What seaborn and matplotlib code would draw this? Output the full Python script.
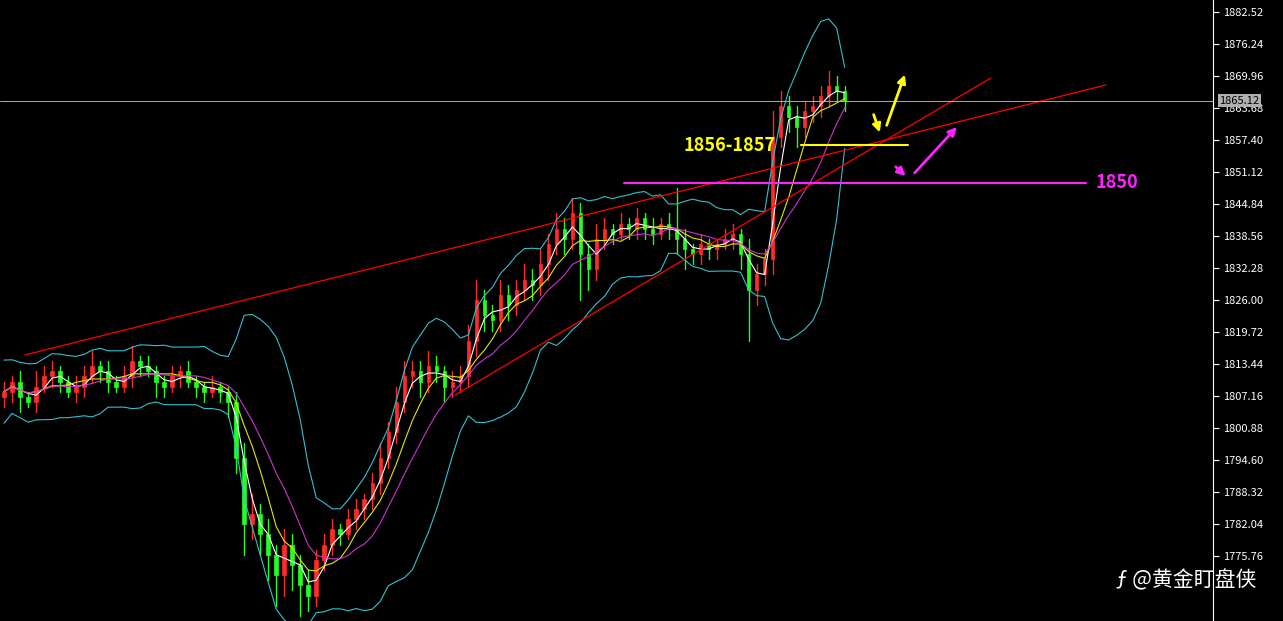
import matplotlib
matplotlib.use("Agg")
import matplotlib.pyplot as plt
import seaborn as sns
import pandas as pd
import numpy as np

sns.set_style("dark")
plt.rcParams['font.family'] = ['Noto Sans CJK SC', 'DejaVu Sans']

closes = [1808,1810,1807,1806,1809,1811,1812,1810,1808,1809,1811,1813,1812,1810,1809,1811,1814,1813,1812,1810,
          1809,1811,1812,1810,1809,1808,1809,1808,1806,
          1795,1782,1784,1780,1776,1772,1778,1774,1770,1768,1775,1778,
          1781,1780,1783,1785,1787,1790,1795,1800,1806,
          1811,1812,1810,1813,1812,1809,1810,1811,
          1818,1826,1823,1822,1827,1825,
          1828,1830,1829,1833,1837,1840,
          1838,1843,1835,1832,1838,
          1840,1839,1841,1840,1842,1840,1839,1841,1840,1838,
          1836,1835,1837,1836,1837,1838,1839,1835,
          1828,1831,1834,
          1858,1864,
          1862,1860,1863,1864,1866,1868,1867,1865]
wick_up = [2,1,2,1,3,2,2,1,1,2, 2,3,1,2,1,2,3,1,2,1, 1,2,1,2,1,1,2,1,1, 2,3,4,2,3,2,3,2,2,3,2,2,
           2,1,2,2,1,2,3,2,3, 3,2,2,3,2,1,2,2, 3,4,2,2,3,2, 2,3,2,3,2,3, 2,3,2,2,3,
           2,1,2,1,2,1,2,1,2,8, 2,1,2,1,1,2,2,1, 3,2,2, 5,3, 2,2,2,2,2,3,2,1]
wick_dn = [2,2,3,1,2,1,2,2,1,2, 2,1,2,2,1,1,2,2,1,3, 2,1,2,1,2,2,1,2,3, 3,6,3,4,5,6,4,5,6,3,2,2,
           2,2,1,2,2,2,2,2,2, 2,2,3,2,2,3,2,2, 2,3,3,2,2,3, 2,2,3,2,3,2, 3,2,9,4,2,
           2,2,1,2,2,2,2,1,2,3, 4,2,2,2,2,1,2,3, 10,3,2, 3,2, 3,4,2,2,2,2,2,2]

idx = np.arange(len(closes))
opens = [closes[0] - 1] + closes[:-1]
df = pd.DataFrame({"i": idx, "open": opens, "close": closes})
df["high"] = df[["open", "close"]].max(axis=1) + wick_up
df["low"] = df[["open", "close"]].min(axis=1) - wick_dn
c = df["close"]
ma5 = c.rolling(3, min_periods=1).mean()
ma10 = c.rolling(6, min_periods=1).mean()
ma20 = c.rolling(10, min_periods=1).mean()
sd = c.rolling(10, min_periods=1).std().fillna(2)
upper, lower = ma20 + 1.6 * sd + 3, ma20 - 1.6 * sd - 3

fig = plt.figure(figsize=(12.83, 6.21), dpi=100, facecolor="black")
ax = fig.add_axes([0, 0, 1213 / 1283, 1])
ax.set_facecolor("black")

for _, r in df.iterrows():
    col = "#ff2a2a" if r["close"] >= r["open"] else "#22ff22"
    ax.plot([r["i"], r["i"]], [r["low"], r["high"]], color=col, lw=1)
    ax.bar(r["i"], max(abs(r["close"] - r["open"]), 0.3), bottom=min(r["open"], r["close"]),
           width=0.45, color=col, edgecolor=col, linewidth=0.5)

sns.lineplot(x=idx, y=ma5, ax=ax, color="white", lw=0.8)
sns.lineplot(x=idx, y=ma10, ax=ax, color="#e6e600", lw=0.8)
sns.lineplot(x=idx, y=ma20, ax=ax, color="#cc33cc", lw=0.8)
sns.lineplot(x=idx, y=upper, ax=ax, color="#33c0d0", lw=0.8)
sns.lineplot(x=idx, y=lower, ax=ax, color="#33c0d0", lw=0.8)

def px(x):
    return (x - 4) / 8

def py(y):
    return 1882.52 - (y - 12) / 5.096

ax.plot([px(25), px(1105)], [py(355), py(85)], color="red", lw=0.9)
ax.plot([px(455), px(990)], [py(395), py(78)], color="red", lw=0.9)
ax.plot([px(800), px(907)], [1856.4, 1856.4], color="yellow", lw=1.5)
ax.plot([px(623), px(1085)], [1849.0, 1849.0], color="#ff22ff", lw=1.5)
ax.text(px(683), 1856.4, "1856-1857", color="yellow", fontsize=13, fontweight="bold", va="center")
ax.text(px(1095), 1849.0, "1850", color="#ff22ff", fontsize=13, fontweight="bold", va="center")
ap = dict(arrowstyle="-|>", lw=2, mutation_scale=12)
ax.annotate("", xy=(px(905), py(72)), xytext=(px(885), py(128)), arrowprops=dict(color="yellow", **ap))
ax.annotate("", xy=(px(880), py(135)), xytext=(px(872), py(112)), arrowprops=dict(color="yellow", **ap))
ax.annotate("", xy=(px(907), py(178)), xytext=(px(893), py(165)), arrowprops=dict(color="#ff22ff", **ap))
ax.annotate("", xy=(px(958), py(125)), xytext=(px(912), py(175)), arrowprops=dict(color="#ff22ff", **ap))

ax.axhline(1865.12, color="#aaaaaa", lw=0.7)
ax.set_xlim(-0.5, px(1212))
ax.set_ylim(1763.0, 1884.87)
ticks = [1882.52 - 6.28 * k for k in range(18)]
ax.yaxis.tick_right()
ax.set_yticks(ticks)
ax.set_yticklabels([f"{t:.2f}" for t in ticks], color="white", fontsize=8)
ax.tick_params(axis="y", colors="white", length=4, direction="out")
ax.set_xticks([])
ax.set_xlabel("")
ax.set_ylabel("")
for s in ["top", "left", "bottom"]:
    ax.spines[s].set_visible(False)
ax.spines["right"].set_color("white")
ax.grid(False)
ax.text(1.005, 1865.12, "1865.12", transform=ax.get_yaxis_transform(), color="black", fontsize=8,
        va="center", bbox=dict(facecolor="#b0b0b0", edgecolor="none", pad=1))
fig.text(0.87, 0.065, "\u0192 @黄金盯盘侠", color="white", fontsize=15, va="center")

fig.savefig("out.png", dpi=100, facecolor="black")
